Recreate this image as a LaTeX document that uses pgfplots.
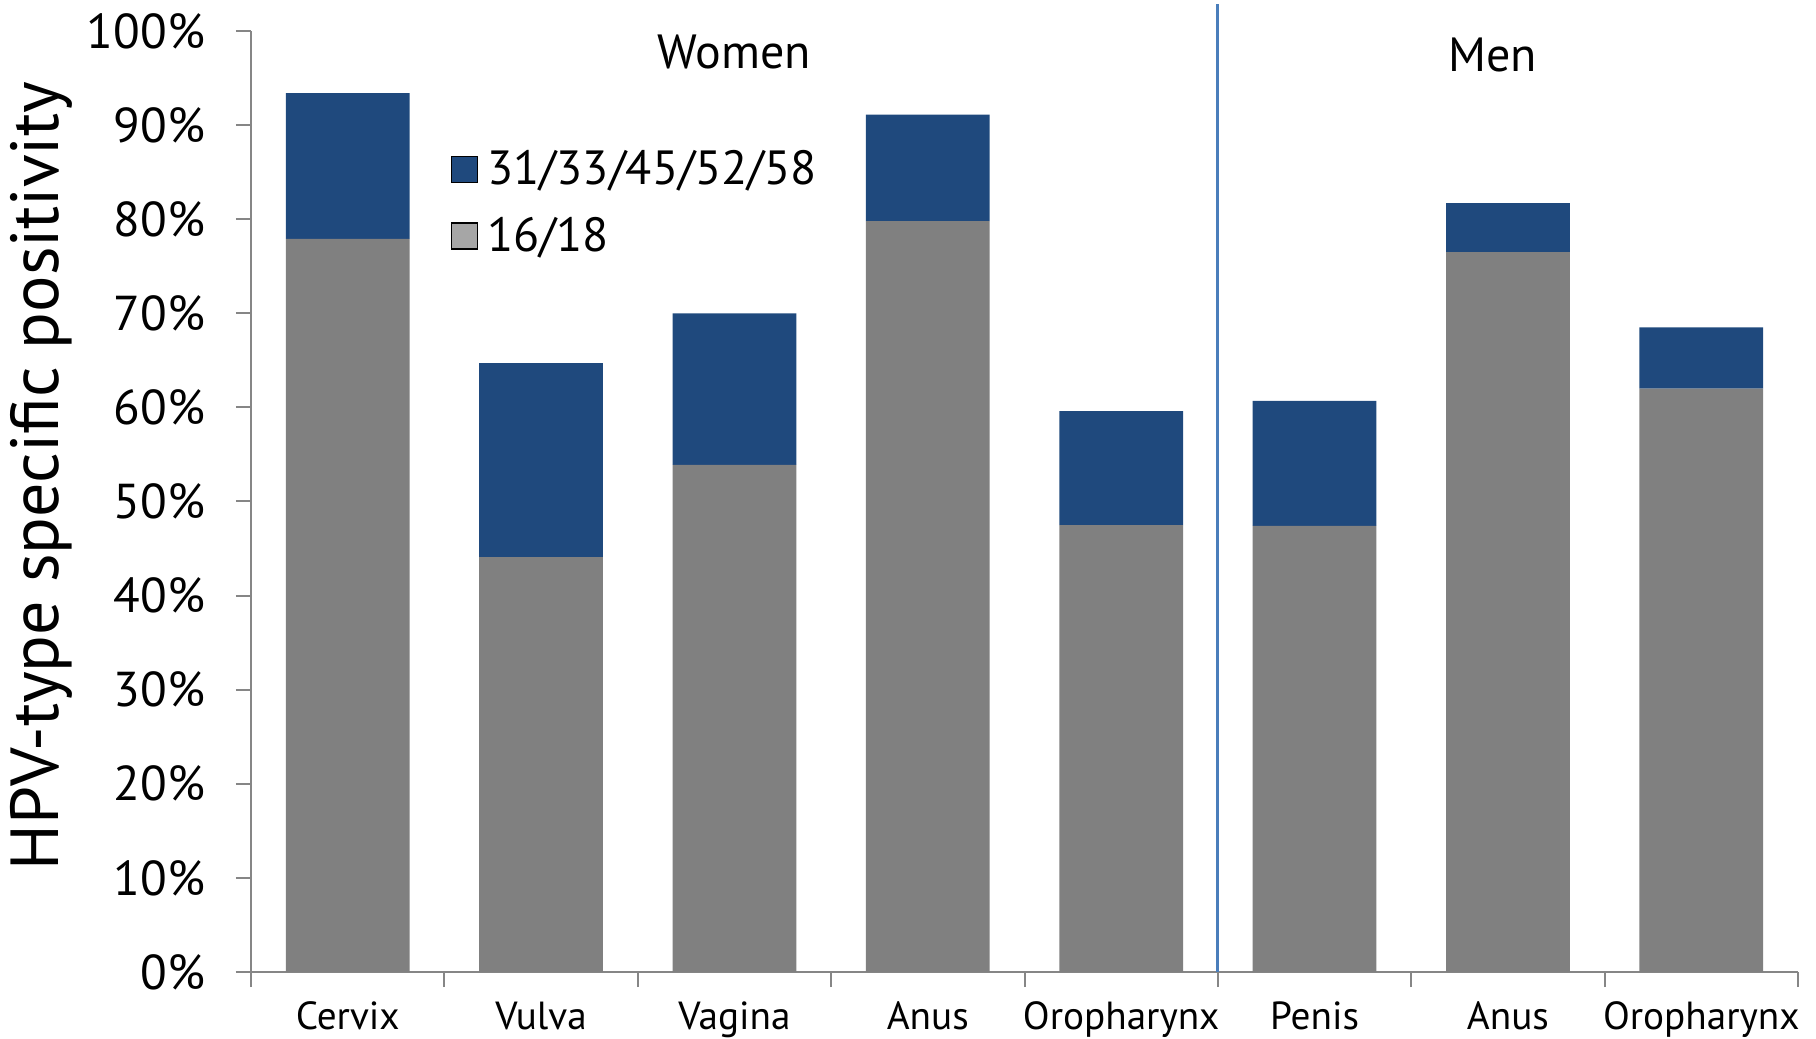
\documentclass[border=0pt]{standalone}
\usepackage{fontspec}
\setmainfont{PT Sans}
\usepackage{pgfplots}
\pgfplotsset{compat=1.18}

\definecolor{hpvBlue}{RGB}{31,73,125}
\definecolor{hpvGray}{RGB}{128,128,128}
\definecolor{legGray}{RGB}{166,166,166}
\definecolor{divBlue}{RGB}{74,126,187}
\definecolor{axisGray}{RGB}{134,134,134}

\begin{document}
\begin{tikzpicture}
\begin{axis}[
    scale only axis,
    width=773.5pt,
    height=470.5pt,
    xmin=-0.5, xmax=7.5,
    ymin=0, ymax=100,
    ybar stacked,
    bar width=0.64,
    axis x line*=bottom,
    axis y line*=left,
    axis line style={draw=axisGray, line width=1pt},
    tick align=outside,
    major tick length=7.5pt,
    tick style={draw=axisGray, line width=1pt},
    xtick={-0.5,0.5,...,7.5},
    xticklabels={},
    extra x ticks={0,1,2,3,4,5,6,7},
    extra x tick labels={Cervix,Vulva,Vagina,Anus,Oropharynx,Penis,Anus,Oropharynx},
    extra x tick style={major tick length=0pt,
        tick label style={font=\fontsize{19.6}{21}\selectfont, anchor=base, yshift=-28.5pt}},
    ytick={0,10,...,100},
    yticklabels={0\%,10\%,20\%,30\%,40\%,50\%,60\%,70\%,80\%,90\%,100\%},
    yticklabel style={font=\fontsize{24.5}{28}\selectfont, xshift=-12pt},
    clip=false,
    legend image code/.code={\draw[#1] (0pt,-6.5pt) rectangle (13pt,6.5pt);
        \path (15.5pt,0pt);},
    legend style={at={(rel axis cs:0.125,0.882)}, anchor=north west,
        draw=none, fill=none, font=\fontsize{24}{27}\selectfont,
        row sep=11pt, cells={anchor=west}},
]
% 16/18
\addplot+[fill=hpvGray, draw=none, forget plot] coordinates {
    (0,77.9) (1,44.1) (2,53.9) (3,79.8) (4,47.5) (5,47.4) (6,76.5) (7,62.0)
};
% 31/33/45/52/58
\addplot+[fill=hpvBlue, draw=none, forget plot] coordinates {
    (0,15.5) (1,20.6) (2,16.1) (3,11.3) (4,12.1) (5,13.3) (6,5.2) (7,6.5)
};
\addlegendimage{fill=hpvBlue, draw=none}
\addlegendentry{31/33/45/52/58}
\addlegendimage{fill=legGray, draw=black, line width=0.8pt}
\addlegendentry{16/18}

\draw[axisGray, line width=1pt] ([xshift=-7.5pt]rel axis cs:0,0) -- (rel axis cs:0,0);
\draw[divBlue, line width=1.5pt] (axis cs:4.5,0) -- (axis cs:4.5,102.9);
\node[font=\fontsize{24}{26}\selectfont] at (axis cs:2.0,97.8) {Women};
\node[font=\fontsize{24}{26}\selectfont] at (axis cs:5.92,97.4) {Men};
\node[rotate=90, font=\fontsize{34}{37}\selectfont]
    at ([xshift=-105pt]rel axis cs:0,0.527) {HPV-type specific positivity};
\coordinate (O) at (rel axis cs:0,0);
\end{axis}
\pgfresetboundingbox
\path[use as bounding box] ([shift={(-125.5pt,-33.5pt)}]O) rectangle ([shift={(782.5pt,486pt)}]O);
\end{tikzpicture}
\end{document}
